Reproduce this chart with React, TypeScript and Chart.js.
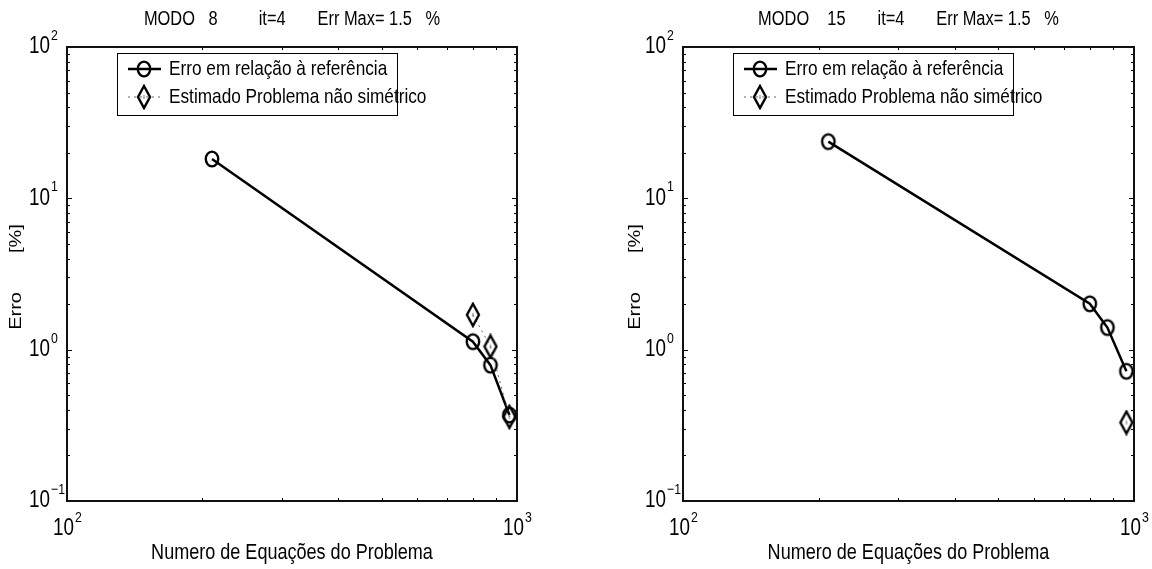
import { useEffect, useRef } from "react";
import { Chart, registerables } from "chart.js";
Chart.register(...registerables);

// ---------- data ----------
const EQUATIONS = [210, 798, 873, 962];
const MODE8_REFERENCE = [18.2, 1.13, 0.79, 0.37];
const MODE8_ESTIMATED = [null, 1.7, 1.05, 0.36];
const MODE15_REFERENCE = [23.7, 2.01, 1.4, 0.72];
const MODE15_ESTIMATED = [null, null, null, 0.33];

const TITLES = [
  "MODO   8         it=4       Err Max= 1.5   %",
  "MODO    15       it=4       Err Max= 1.5   %",
];
const SERIES_NAMES = ["Erro em relação à referência", "Estimado Problema não simétrico"];
const X_LABEL = "Numero de Equações do Problema";
const Y_LABEL = "Erro       [%]";
const X_TICKS = [100, 1000];
const X_TICK_EXP = ["2", "3"];
const Y_TICKS = [0.1, 1, 10, 100];
const Y_TICK_EXP = ["\u22121", "0", "1", "2"];

const FONT = '"Liberation Sans", Arial, Helvetica, sans-serif';
const SX = 0.82; // horizontal squeeze of the reference

function txt(
  ctx: CanvasRenderingContext2D,
  s: string,
  x: number,
  y: number,
  size: number,
  align: CanvasTextAlign
) {
  ctx.save();
  ctx.translate(x, y);
  ctx.scale(SX, 1);
  ctx.font = `${size}px ${FONT}`;
  ctx.textAlign = align;
  ctx.textBaseline = "middle";
  ctx.fillText(s, 0, 0);
  ctx.restore();
}

function makeCircle(): HTMLCanvasElement {
  const c = document.createElement("canvas");
  c.width = 18;
  c.height = 20;
  const g = c.getContext("2d")!;
  g.lineWidth = 2.4;
  g.strokeStyle = "#000";
  g.beginPath();
  g.ellipse(9, 10, 6.2, 7.4, 0, 0, Math.PI * 2);
  g.stroke();
  return c;
}

function makeDiamond(): HTMLCanvasElement {
  const c = document.createElement("canvas");
  c.width = 16;
  c.height = 26;
  const g = c.getContext("2d")!;
  g.lineWidth = 2.4;
  g.strokeStyle = "#000";
  g.lineJoin = "miter";
  g.beginPath();
  g.moveTo(8, 2);
  g.lineTo(14, 13);
  g.lineTo(8, 24);
  g.lineTo(2, 13);
  g.closePath();
  g.stroke();
  g.lineWidth = 1;
  g.strokeStyle = "#777";
  g.beginPath();
  g.moveTo(8, 11);
  g.lineTo(8, 15);
  g.stroke();
  return c;
}

function drawPow(ctx: CanvasRenderingContext2D, baseRight: number, cy: number, exp: string) {
  txt(ctx, "10", baseRight, cy, 23, "right");
  txt(ctx, exp, baseRight + 1, cy - 11, 15, "left");
}

function makePlugin(title: string, ylabelX: number) {
  return {
    id: "matlabAxes",
    afterDraw(chart: any) {
      const { ctx, chartArea: a, scales } = chart;
      const x = scales.x;
      const y = scales.y;
      ctx.save();
      ctx.fillStyle = "#000";
      ctx.strokeStyle = "#000";
      // ticks (inward)
      ctx.lineWidth = 1;
      const xMin = x.min, xMax = x.max, yMin = y.min, yMax = y.max;
      for (let d = xMin; d < xMax * 1.0001; d *= 10) {
        for (let m = 1; m <= 9; m++) {
          const v = d * m;
          if (v > xMax * 1.0001) break;
          const px = Math.round(x.getPixelForValue(v)) + 0.5;
          const len = m === 1 ? 5 : 3;
          ctx.beginPath();
          ctx.moveTo(px, a.bottom);
          ctx.lineTo(px, a.bottom - len);
          ctx.moveTo(px, a.top);
          ctx.lineTo(px, a.top + len);
          ctx.stroke();
        }
      }
      for (let d = yMin; d < yMax * 1.0001; d *= 10) {
        for (let m = 1; m <= 9; m++) {
          const v = d * m;
          if (v > yMax * 1.0001) break;
          const py = Math.round(y.getPixelForValue(v)) + 0.5;
          const len = m === 1 ? 5 : 3;
          ctx.beginPath();
          ctx.moveTo(a.left, py);
          ctx.lineTo(a.left + len, py);
          ctx.moveTo(a.right, py);
          ctx.lineTo(a.right - len, py);
          ctx.stroke();
        }
      }
      // box
      ctx.lineWidth = 2;
      ctx.strokeStyle = "#111";
      ctx.strokeRect(a.left, a.top, a.right - a.left, a.bottom - a.top);

      // tick labels
      ctx.fillStyle = "#000";
      Y_TICKS.forEach((v, i) => {
        drawPow(ctx, a.left - 17, y.getPixelForValue(v), Y_TICK_EXP[i]);
      });
      X_TICKS.forEach((v, i) => {
        drawPow(ctx, x.getPixelForValue(v) + 7, a.bottom + 28, X_TICK_EXP[i]);
      });

      // title
      const cx = (a.left + a.right) / 2;
      txt(ctx, title, cx, 19, 20, "center");
      // x label
      txt(ctx, X_LABEL, cx, a.bottom + 52, 22, "center");
      // y label (rotated; squeeze applies across the text)
      ctx.save();
      ctx.translate(ylabelX, (a.top + a.bottom) / 2 + 3);
      ctx.rotate(-Math.PI / 2);
      ctx.scale(1, SX);
      ctx.font = `20px ${FONT}`;
      ctx.textAlign = "center";
      ctx.textBaseline = "middle";
      ctx.fillText(Y_LABEL, 0, 0);
      ctx.restore();

      // legend
      const lx = a.left + 50;
      const ly = a.top + 6;
      const lw = 280;
      const lh = 62;
      ctx.fillStyle = "#fff";
      ctx.fillRect(lx, ly, lw, lh);
      ctx.lineWidth = 1;
      ctx.strokeStyle = "#000";
      ctx.strokeRect(lx + 0.5, ly + 0.5, lw, lh);
      const rows = [ly + 16, ly + 44];
      // row 1
      ctx.lineWidth = 2.5;
      ctx.beginPath();
      ctx.moveTo(lx + 11, rows[0]);
      ctx.lineTo(lx + 44, rows[0]);
      ctx.stroke();
      const circ = chart.data.datasets[0].pointStyle as HTMLCanvasElement;
      ctx.drawImage(circ, lx + 27 - circ.width / 2, rows[0] - circ.height / 2);
      // row 2
      ctx.lineWidth = 1;
      ctx.strokeStyle = "#666";
      ctx.setLineDash([2, 4]);
      ctx.beginPath();
      ctx.moveTo(lx + 11, rows[1]);
      ctx.lineTo(lx + 44, rows[1]);
      ctx.stroke();
      ctx.setLineDash([]);
      const dia = chart.data.datasets[1].pointStyle as HTMLCanvasElement;
      ctx.drawImage(dia, lx + 27 - dia.width / 2, rows[1] - dia.height / 2);
      ctx.fillStyle = "#000";
      txt(ctx, SERIES_NAMES[0], lx + 52, rows[0], 21, "left");
      txt(ctx, SERIES_NAMES[1], lx + 52, rows[1], 21, "left");
      ctx.restore();
    },
  };
}

function toPoints(values: (number | null)[]) {
  const pts: { x: number; y: number }[] = [];
  values.forEach((v, i) => {
    if (v !== null) pts.push({ x: EQUATIONS[i], y: v });
  });
  return pts;
}

function Panel(props: {
  title: string;
  reference: (number | null)[];
  estimated: (number | null)[];
  padLeft: number;
  padRight: number;
  ylabelX: number;
}) {
  const ref = useRef<HTMLCanvasElement>(null);
  useEffect(() => {
    const circle = makeCircle();
    const diamond = makeDiamond();
    const chart = new Chart(ref.current!, {
      type: "line",
      data: {
        datasets: [
          {
            label: SERIES_NAMES[0],
            data: toPoints(props.reference),
            borderColor: "#000",
            borderWidth: 2.5,
            pointStyle: circle as any,
            pointRadius: 8,
            showLine: true,
            order: 1,
          },
          {
            label: SERIES_NAMES[1],
            data: toPoints(props.estimated),
            borderColor: "#666",
            borderWidth: 1,
            borderDash: [2, 4],
            pointStyle: diamond as any,
            pointRadius: 8,
            showLine: true,
            order: 0,
          },
        ],
      },
      options: {
        animation: false,
        responsive: false,
        devicePixelRatio: 1,
        layout: {
          padding: { left: props.padLeft, right: props.padRight, top: 47, bottom: 68 },
        },
        plugins: { legend: { display: false }, title: { display: false }, tooltip: { enabled: false } },
        scales: {
          x: { type: "logarithmic", min: 100, max: 1000, display: false },
          y: { type: "logarithmic", min: 0.1, max: 100, display: false },
        },
      },
      plugins: [makePlugin(props.title, props.ylabelX)],
    });
    return () => chart.destroy();
  }, []);
  return <canvas ref={ref} width={576} height={569} style={{ width: 576, height: 569, display: "block" }} />;
}

export default function App() {
  return (
    <div style={{ position: "absolute", left: 0, top: 0, width: 1152, height: 569, display: "flex", background: "#fff" }}>
      <Panel title={TITLES[0]} reference={MODE8_REFERENCE} estimated={MODE8_ESTIMATED} padLeft={67} padRight={59} ylabelX={16} />
      <Panel title={TITLES[1]} reference={MODE15_REFERENCE} estimated={MODE15_ESTIMATED} padLeft={107} padRight={18} ylabelX={59} />
    </div>
  );
}
